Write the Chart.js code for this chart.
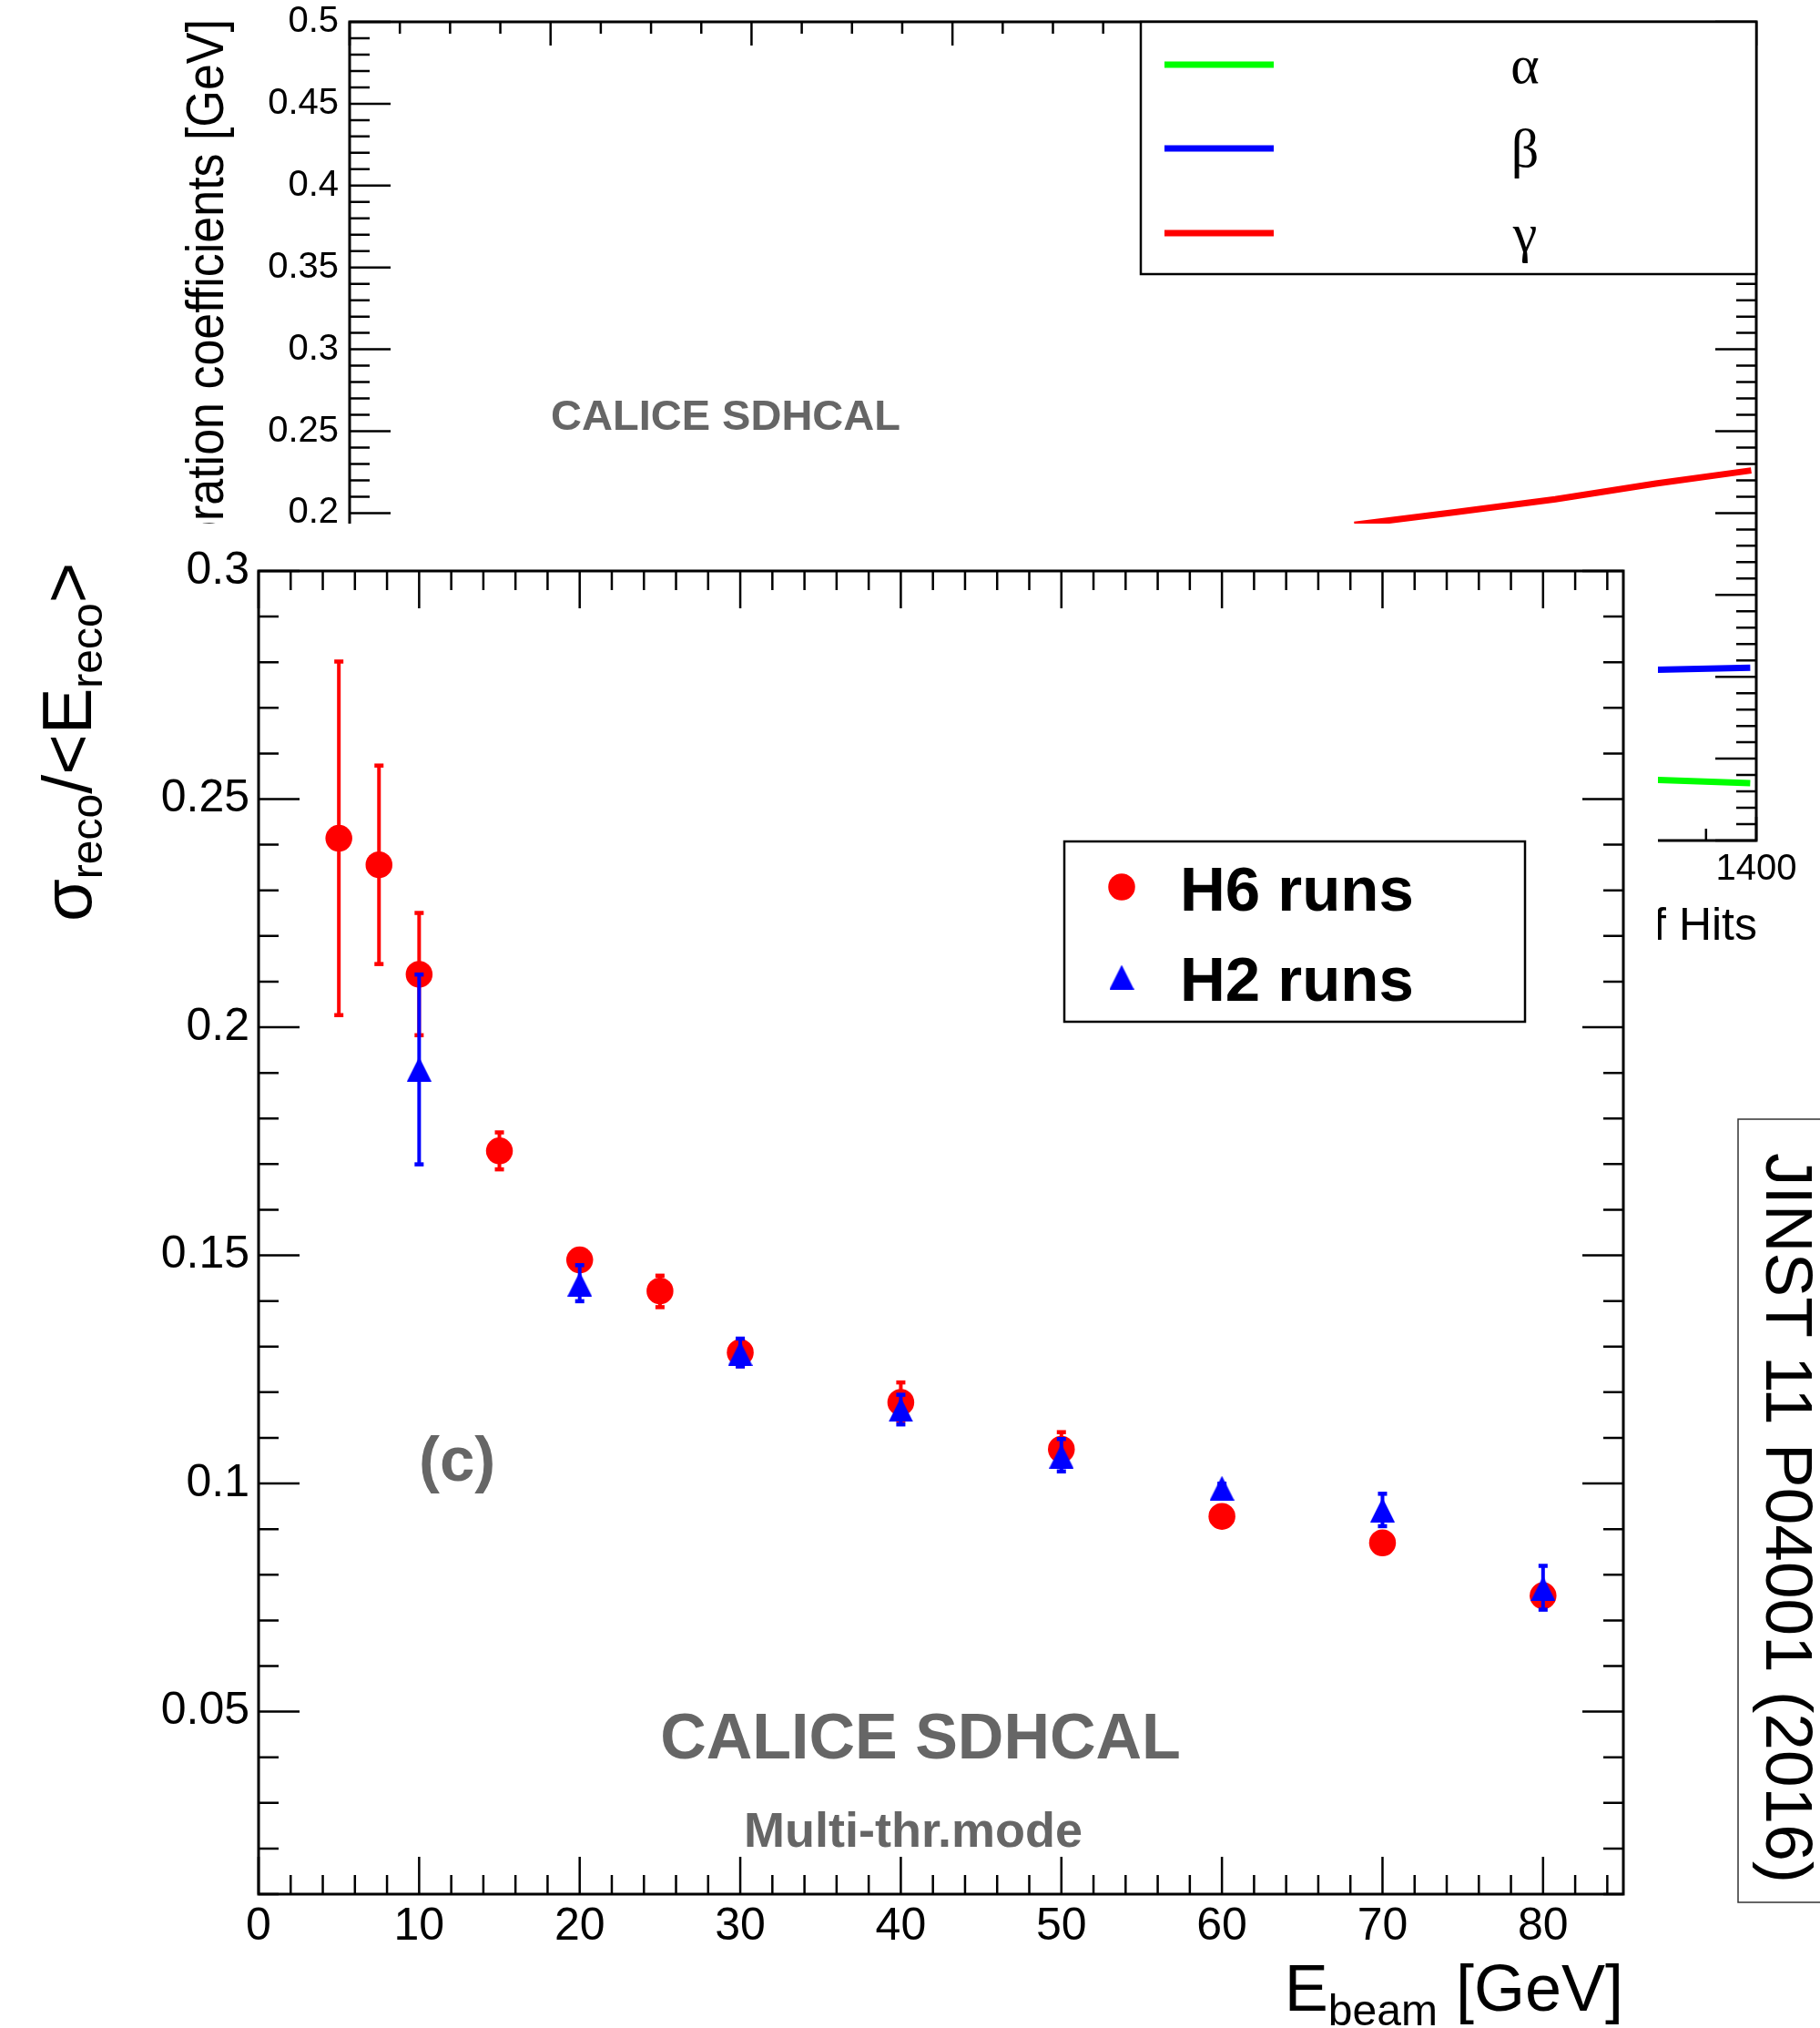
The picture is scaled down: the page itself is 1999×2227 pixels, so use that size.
<!doctype html>
<html lang="en">
<head>
<meta charset="utf-8">
<title>CALICE SDHCAL resolution</title>
<script src="https://cdn.jsdelivr.net/npm/chart.js@4.4.1/dist/chart.umd.min.js"></script>
<style>
  html, body { margin: 0; padding: 0; background: #fff; overflow: hidden; }
  body { width: 1999px; height: 2227px; position: relative; }
  #coeffChart { position: absolute; left: 0; top: 0; }
  #resoChart { position: absolute; left: 0; top: 575px; background: #fff; }
</style>
</head>
<body>
<canvas id="coeffChart" width="1999" height="2227"></canvas>
<canvas id="resoChart" width="1821" height="1652"></canvas>
<script>
// ---- front plot: relative resolution vs beam energy ----
const h6Energy  = [5, 7.5, 10, 15, 20, 25, 30, 40, 50, 60, 70, 80];
const h6Reso    = [0.2414, 0.2356, 0.2116, 0.1729, 0.1490, 0.1422, 0.1287, 0.1178, 0.1075, 0.0928, 0.0870, 0.0754];
const h6ErrUp   = [0.0388, 0.0218, 0.0135, 0.0041, 0.0018, 0.0034, 0.0030, 0.0044, 0.0038, 0.0015, 0.0015, 0.0020];
const h6ErrDown = [0.0388, 0.0218, 0.0134, 0.0041, 0.0018, 0.0036, 0.0030, 0.0040, 0.0036, 0.0015, 0.0015, 0.0020];

const h2Energy  = [10, 20, 30, 40, 50, 60, 70, 80];
const h2Reso    = [0.1908, 0.1437, 0.1285, 0.1162, 0.1060, 0.0990, 0.0942, 0.0770];
const h2ErrUp   = [0.0208, 0.0042, 0.0033, 0.0033, 0.0038, 0.0010, 0.0036, 0.0050];
const h2ErrDown = [0.0209, 0.0038, 0.0029, 0.0033, 0.0034, 0.0010, 0.0036, 0.0047];

// ---- plot behind: calibration coefficients vs number of hits (mostly hidden) ----
const alphaHits = [1290, 1394];
const alphaCoef = [0.0373, 0.0350];
const betaHits  = [1290, 1394];
const betaCoef  = [0.1042, 0.1056];
const gammaHits = [1000, 1100, 1200, 1300, 1395];
const gammaCoef = [0.1928, 0.2005, 0.2084, 0.2180, 0.2260];

const SANS = '"Liberation Sans", Arial, Helvetica, sans-serif';
const SERIF = '"Liberation Serif", "Times New Roman", serif';
const GREY = 'rgb(102,102,102)';
const TOP = 575; // page offset of the front canvas

const fmt = v => String(+Number(v).toFixed(2));
const pts = (xs, ys) => xs.map((x, i) => ({ x: x, y: ys[i] }));

// text with subscripts, optionally rotated (sy stretches glyph height)
function richText(ctx, parts, x, y, rot, align, sy) {
  ctx.save();
  ctx.translate(x, y);
  ctx.rotate(rot || 0);
  if (sy) ctx.scale(1, sy);
  let w = 0;
  parts.forEach(p => {
    ctx.font = (p.bold ? 'bold ' : '') + p.size + 'px ' + (p.family || SANS);
    p.w = ctx.measureText(p.text).width;
    w += p.w;
  });
  let cx = align === 'right' ? -w : align === 'center' ? -w / 2 : 0;
  ctx.textBaseline = 'alphabetic';
  ctx.textAlign = 'left';
  parts.forEach(p => {
    ctx.font = (p.bold ? 'bold ' : '') + p.size + 'px ' + (p.family || SANS);
    ctx.fillStyle = p.color || '#000';
    ctx.fillText(p.text, cx, p.shift || 0);
    cx += p.w;
  });
  ctx.restore();
}

// ROOT-like frame with inward ticks on all four sides
function rootFrame(o) {
  return {
    id: 'rootFrame',
    beforeDatasetsDraw(chart) {
      const { ctx, chartArea: a, scales: { x, y } } = chart;
      ctx.save();
      ctx.strokeStyle = '#000';
      ctx.lineWidth = o.tickWidth;
      ctx.beginPath();
      const x0 = Math.ceil(x.min / o.xMinor - 1e-9);
      for (let i = x0; i * o.xMinor <= x.max + 1e-9; i++) {
        const v = i * o.xMinor;
        const major = Math.abs(v / o.xMajor - Math.round(v / o.xMajor)) < 1e-6;
        const len = major ? o.xLen[0] : o.xLen[1];
        const px = x.getPixelForValue(v);
        ctx.moveTo(px, a.bottom); ctx.lineTo(px, a.bottom - len);
        ctx.moveTo(px, a.top); ctx.lineTo(px, a.top + len);
      }
      const y0 = Math.ceil(y.min / o.yMinor - 1e-9);
      for (let i = y0; i * o.yMinor <= y.max + 1e-9; i++) {
        const v = i * o.yMinor;
        const major = Math.abs(v / o.yMajor - Math.round(v / o.yMajor)) < 1e-6;
        const len = major ? o.yLen[0] : o.yLen[1];
        const py = y.getPixelForValue(v);
        ctx.moveTo(a.left, py); ctx.lineTo(a.left + len, py);
        ctx.moveTo(a.right, py); ctx.lineTo(a.right - len, py);
      }
      ctx.stroke();
      ctx.lineWidth = o.frameWidth;
      ctx.strokeRect(a.left, a.top, a.right - a.left, a.bottom - a.top);
      ctx.restore();
    }
  };
}

// vertical error bars with small end caps
const errorBars = {
  id: 'errorBars',
  beforeDatasetDraw(chart, args) {
    const ds = chart.data.datasets[args.index];
    if (!ds.errUp) return;
    const { ctx, scales: { y } } = chart;
    ctx.save();
    ctx.strokeStyle = ds.backgroundColor;
    ctx.fillStyle = ds.backgroundColor;
    ctx.lineWidth = 4;
    args.meta.data.forEach((el, i) => {
      const p = ds.data[i];
      const yt = y.getPixelForValue(p.y + ds.errUp[i]);
      const yb = y.getPixelForValue(p.y - ds.errDown[i]);
      ctx.beginPath();
      ctx.moveTo(el.x, yt); ctx.lineTo(el.x, yb);
      ctx.stroke();
      ctx.fillRect(el.x - 5, yt - 2, 10, 4.5);
      ctx.fillRect(el.x - 5, yb - 2.5, 10, 4.5);
    });
    ctx.restore();
  }
};

// filled up-triangle marker, centred on its bounding box
const triangleMarker = document.createElement('canvas');
triangleMarker.width = 27;
triangleMarker.height = 27;
(function () {
  const c = triangleMarker.getContext('2d');
  c.fillStyle = '#0000ff';
  c.beginPath();
  c.moveTo(0, 27); c.lineTo(27, 27); c.lineTo(13.5, 0);
  c.closePath();
  c.fill();
})();

// ---------------- plot behind ----------------
const coeffDecor = {
  id: 'coeffDecor',
  afterDraw(chart) {
    const ctx = chart.ctx;
    // axis titles
    richText(ctx, [{ text: 'Calibration coefficients [GeV]', size: 52 }], 245, 21, -Math.PI / 2, 'right', 1.12);
    richText(ctx, [{ text: 'Number of Hits', size: 50 }], 1930, 1032, 0, 'right');
    richText(ctx, [{ text: 'CALICE SDHCAL', size: 47, bold: true, color: GREY }], 797, 472, 0, 'center');
    // legend
    ctx.save();
    ctx.fillStyle = '#fff';
    ctx.fillRect(1253, 24, 676, 277);
    ctx.strokeStyle = '#000';
    ctx.lineWidth = 2.5;
    ctx.strokeRect(1253, 24, 676, 277);
    const rows = [71, 163, 256];
    chart.data.datasets.forEach((ds, i) => {
      ctx.strokeStyle = ds.borderColor;
      ctx.lineWidth = 7;
      ctx.beginPath();
      ctx.moveTo(1279, rows[i]); ctx.lineTo(1399, rows[i]);
      ctx.stroke();
      richText(ctx, [{ text: ds.label, size: 60, family: SERIF }], 1675, rows[i] + 20, 0, 'center');
    });
    ctx.restore();
    // journal stamp at the right edge
    ctx.save();
    ctx.strokeStyle = '#333';
    ctx.lineWidth = 1.5;
    ctx.strokeRect(1909, 1229, 200, 860);
    ctx.restore();
    richText(ctx, [{ text: 'JINST 11 P04001 (2016)', size: 73 }], 1940, 1667, Math.PI / 2, 'center');
  }
};

new Chart(document.getElementById('coeffChart'), {
  type: 'scatter',
  data: {
    datasets: [
      { label: 'α', data: pts(alphaHits, alphaCoef), borderColor: '#00ff00', backgroundColor: '#00ff00' },
      { label: 'β', data: pts(betaHits, betaCoef), borderColor: '#0000ff', backgroundColor: '#0000ff' },
      { label: 'γ', data: pts(gammaHits, gammaCoef), borderColor: '#ff0000', backgroundColor: '#ff0000' }
    ].map(d => Object.assign(d, { showLine: true, pointRadius: 0, borderWidth: 7, tension: 0 }))
  },
  options: {
    responsive: false,
    devicePixelRatio: 1,
    animation: false,
    layout: { padding: { left: 0, top: 24, right: 70, bottom: 1244 } },
    plugins: { legend: { display: false }, tooltip: { enabled: false } },
    scales: {
      x: {
        min: 0, max: 1400,
        afterFit: s => { s.height = 60; s.paddingLeft = 0; s.paddingRight = 0; },
        grid: { display: false, drawTicks: false }, border: { display: false },
        ticks: { stepSize: 200, padding: 8, color: '#000', font: { family: SANS, size: 40 }, maxRotation: 0, autoSkip: false, callback: v => String(v) }
      },
      y: {
        min: 0, max: 0.5,
        afterFit: s => { s.width = 384; s.paddingTop = 0; s.paddingBottom = 0; },
        grid: { display: false, drawTicks: false }, border: { display: false },
        ticks: { stepSize: 0.05, padding: 12, color: '#000', font: { family: SANS, size: 40 }, callback: fmt }
      }
    }
  },
  plugins: [rootFrame({ xMajor: 200, xMinor: 50, xLen: [26, 13], yMajor: 0.05, yMinor: 0.01, yLen: [45, 22], tickWidth: 2.5, frameWidth: 3 }), coeffDecor]
});

// ---------------- front plot ----------------
const resoDecor = {
  id: 'resoDecor',
  afterDraw(chart) {
    const ctx = chart.ctx;
    const a = chart.chartArea;
    // axis titles
    richText(ctx, [
      { text: 'σ', size: 76 },
      { text: 'reco', size: 48, shift: 12 },
      { text: '/<E', size: 76 },
      { text: 'reco', size: 48, shift: 12 },
      { text: '>', size: 76 }
    ], 100, 815 - TOP, -Math.PI / 2, 'center');
    richText(ctx, [
      { text: 'E', size: 72 },
      { text: 'beam', size: 48, shift: 16 },
      { text: ' [GeV]', size: 72 }
    ], a.right, 2208 - TOP, 0, 'right');
    // labels
    richText(ctx, [{ text: '(c)', size: 69, bold: true, color: GREY }], 460, 1626 - TOP, 0, 'left');
    richText(ctx, [{ text: 'CALICE SDHCAL', size: 70, bold: true, color: GREY }], 1011, 1931 - TOP, 0, 'center');
    richText(ctx, [{ text: 'Multi-thr.mode', size: 54, bold: true, color: GREY }], 1003, 2028 - TOP, 0, 'center');
    // legend
    ctx.save();
    ctx.fillStyle = '#fff';
    ctx.fillRect(1169, 924 - TOP, 506, 198);
    ctx.strokeStyle = '#000';
    ctx.lineWidth = 2.5;
    ctx.strokeRect(1169, 924 - TOP, 506, 198);
    const markY = [974, 1073], textY = [1000, 1099];
    chart.data.datasets.forEach((ds, i) => {
      ctx.fillStyle = ds.backgroundColor;
      Chart.helpers.drawPoint(ctx, { pointStyle: ds.pointStyle, radius: ds.pointRadius, rotation: 0, borderWidth: 0 }, 1232, markY[i] - TOP);
      richText(ctx, [{ text: ds.label, size: 69, bold: true }], 1296, textY[i] - TOP, 0, 'left');
    });
    ctx.restore();
  }
};

new Chart(document.getElementById('resoChart'), {
  type: 'scatter',
  data: {
    datasets: [
      { label: 'H6 runs', data: pts(h6Energy, h6Reso), errUp: h6ErrUp, errDown: h6ErrDown,
        pointStyle: 'circle', pointRadius: 14.75, pointHoverRadius: 14.75, borderWidth: 0,
        backgroundColor: '#ff0000', borderColor: '#ff0000', order: 2 },
      { label: 'H2 runs', data: pts(h2Energy, h2Reso), errUp: h2ErrUp, errDown: h2ErrDown,
        pointStyle: triangleMarker, pointRadius: 14, pointHoverRadius: 14, borderWidth: 0,
        backgroundColor: '#0000ff', borderColor: '#0000ff', order: 1 }
    ]
  },
  options: {
    responsive: false,
    devicePixelRatio: 1,
    animation: false,
    layout: { padding: { left: 0, top: 52, right: 38, bottom: 67 } },
    plugins: { legend: { display: false }, tooltip: { enabled: false } },
    scales: {
      x: {
        min: 0, max: 85,
        afterFit: s => { s.height = 80; s.paddingLeft = 0; s.paddingRight = 0; },
        grid: { display: false, drawTicks: false }, border: { display: false },
        ticks: { stepSize: 10, includeBounds: false, padding: 6, color: '#000', font: { family: SANS, size: 50 }, maxRotation: 0, autoSkip: false, callback: v => String(v) }
      },
      y: {
        min: 0.01, max: 0.3,
        afterFit: s => { s.width = 284; s.paddingTop = 0; s.paddingBottom = 0; },
        grid: { display: false, drawTicks: false }, border: { display: false },
        ticks: { stepSize: 0.05, includeBounds: false, padding: 10, color: '#000', font: { family: SANS, size: 50 }, callback: fmt }
      }
    }
  },
  plugins: [rootFrame({ xMajor: 10, xMinor: 2, xLen: [41, 21], yMajor: 0.05, yMinor: 0.01, yLen: [45, 22], tickWidth: 2.5, frameWidth: 3 }), errorBars, resoDecor]
});
</script>
</body>
</html>
